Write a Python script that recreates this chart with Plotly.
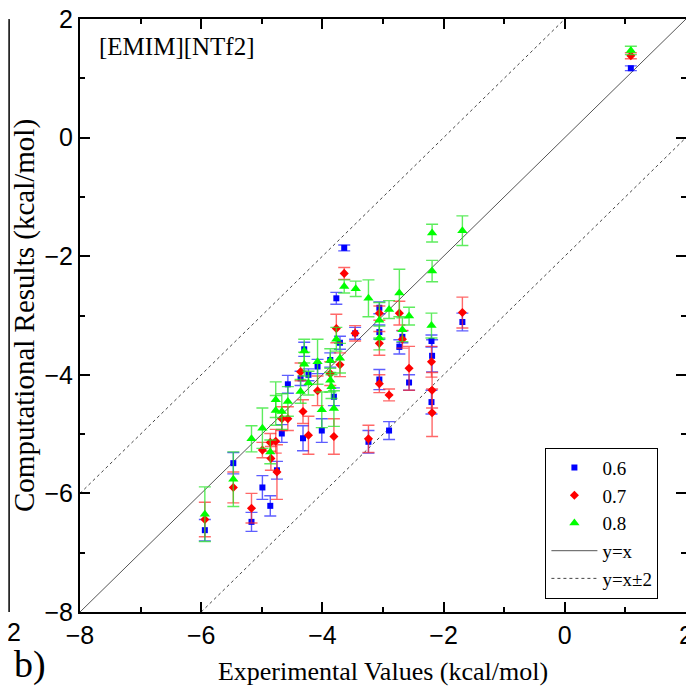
import plotly.graph_objects as go

# experimental (x), computed (y) and error for each charge-scaling factor
x_06 = [1.09, -1.69, -2.20, -2.19, -2.20, -2.57, -2.73, -2.68, -2.90, -3.06, -3.06, -3.06,
        -3.24, -3.46, -3.64, -3.77, -3.71, -3.87, -3.81, -4.08, -4.01, -4.30, -4.36, -4.23,
        -4.32, -4.57, -4.67, -4.75, -4.86, -4.99, -5.17, -5.47, -5.94]
y_06 = [1.17, -3.11, -3.43, -3.68, -4.46, -4.13, -3.53, -3.36, -4.94, -4.08, -2.87, -3.28,
        -5.13, -3.30, -1.86, -2.71, -3.46, -3.75, -4.37, -3.86, -4.94, -3.57, -4.06, -4.00,
        -5.07, -4.16, -4.99, -5.61, -6.21, -5.90, -6.48, -5.49, -6.62]
e_06 = [0.04, 0.15, 0.10, 0.27, 0.20, 0.13, 0.12, 0.10, 0.15, 0.17, 0.10, 0.12,
        0.19, 0.10, 0.05, 0.10, 0.11, 0.12, 0.15, 0.12, 0.20, 0.12, 0.12, 0.10,
        0.21, 0.15, 0.15, 0.15, 0.17, 0.20, 0.16, 0.18, 0.18]

x_07 = [1.09, -1.69, -2.20, -2.19, -2.19, -2.57, -2.73, -2.68, -2.90, -3.06, -3.06, -3.06,
        -3.24, -3.46, -3.64, -3.77, -3.71, -3.87, -3.81, -4.08, -4.36, -4.32, -4.23, -4.57,
        -4.67, -4.77, -4.75, -4.85, -4.86, -4.99, -5.17, -5.47, -5.94]
y_07 = [1.38, -2.95, -3.78, -4.26, -4.64, -3.89, -2.96, -3.40, -4.34, -4.15, -2.96, -3.47,
        -5.08, -3.30, -2.29, -3.22, -3.83, -3.98, -5.04, -4.27, -3.95, -4.62, -5.02, -4.74,
        -4.74, -5.12, -5.64, -5.41, -5.14, -5.27, -6.25, -5.90, -6.44]
e_07 = [0.05, 0.26, 0.26, 0.30, 0.40, 0.37, 0.20, 0.15, 0.10, 0.15, 0.12, 0.20,
        0.23, 0.13, 0.10, 0.24, 0.20, 0.20, 0.30, 0.25, 0.15, 0.20, 0.32, 0.20,
        0.20, 0.20, 0.46, 0.20, 0.15, 0.13, 0.25, 0.26, 0.29]

x_08 = [1.09, -1.69, -2.19, -2.19, -2.20, -2.57, -2.73, -2.68, -2.90, -3.06, -3.06, -3.24,
        -3.45, -3.64, -3.77, -3.71, -3.87, -3.87, -3.85, -3.81, -4.08, -4.01, -4.30, -4.30,
        -4.23, -4.36, -4.57, -4.67, -4.77, -4.77, -4.86, -4.99, -5.17, -5.47, -5.94]
y_08 = [1.47, -1.57, -1.61, -2.25, -3.17, -3.01, -2.62, -3.24, -2.90, -3.08, -3.38, -2.71,
        -2.55, -2.51, -3.40, -3.72, -3.76, -4.09, -4.20, -4.57, -3.78, -4.59, -3.60, -3.82,
        -4.14, -4.28, -4.45, -4.62, -4.42, -4.60, -5.30, -4.90, -5.08, -5.76, -6.35]
e_08 = [0.07, 0.25, 0.15, 0.18, 0.21, 0.15, 0.40, 0.20, 0.15, 0.30, 0.20, 0.31,
        0.13, 0.11, 0.20, 0.25, 0.20, 0.20, 0.20, 0.30, 0.38, 0.30, 0.20, 0.20,
        0.20, 0.20, 0.25, 0.30, 0.30, 0.25, 0.20, 0.34, 0.22, 0.46, 0.46]

series_names = ["0.6", "0.7", "0.8"]
axis_range = [-8, 2]

serif = "Times New Roman, Liberation Serif, serif"
sans = "Liberation Sans Narrow, Arial Narrow, Liberation Sans, Arial, sans-serif"

fig = go.Figure()

# reference lines
fig.add_trace(go.Scatter(x=axis_range, y=axis_range, mode="lines", name="y=x",
                         line=dict(color="#555555", width=1), legendrank=4))
fig.add_trace(go.Scatter(x=[-8, 0, None, -6, 2], y=[-6, 2, None, -8, 0], mode="lines",
                         name="y=x\u00b12", legendrank=5,
                         line=dict(color="#444444", width=1, dash="dot")))

styles = [
    (x_06, y_06, e_06, "#0000FF", "rgba(40,40,255,0.75)", "square", 6),
    (x_07, y_07, e_07, "#FF0000", "rgba(255,40,40,0.7)", "diamond", 7),
    (x_08, y_08, e_08, "#00FF00", "rgba(40,230,40,0.75)", "triangle-up", 9),
]
for rank, (name, (xs, ys, es, col, ecol, sym, size)) in enumerate(zip(series_names, styles)):
    fig.add_trace(go.Scatter(
        x=xs, y=ys, mode="markers", name=name, legendrank=rank + 1,
        marker=dict(color=col, symbol=sym, size=size, line=dict(width=0)),
        error_y=dict(type="data", array=es, color=ecol, thickness=1.4, width=6),
    ))

axis_common = dict(
    range=axis_range, dtick=2, showgrid=False, zeroline=False,
    showline=True, linecolor="black", linewidth=2, mirror="ticks",
    ticks="inside", ticklen=10, tickwidth=1.5, tickcolor="black",
    ticklabeloverflow="allow", automargin=False,
    tickfont=dict(family=sans, size=25, color="black"),
    minor=dict(ticks="inside", dtick=1, ticklen=5, tickwidth=1.5, tickcolor="black"),
)
fig.update_xaxes(**axis_common, title=dict(text="Experimental Values (kcal/mol)",
                                           font=dict(family=serif, size=26, color="black"),
                                           standoff=14))
fig.update_yaxes(**axis_common, title=dict(text="Computational Results (kcal/mol)",
                                           font=dict(family=serif, size=29, color="black"),
                                           standoff=10))

# the page body adds 8px, so the figure is 8px smaller and shifted margins
fig.update_layout(
    width=686, height=683,
    margin=dict(l=72, r=8, t=11, b=79, autoexpand=False),
    plot_bgcolor="white", paper_bgcolor="white",
    font=dict(family=serif, color="black"),
    legend=dict(x=0.768, y=0.277, xanchor="left", yanchor="top",
                bgcolor="white", bordercolor="black", borderwidth=1,
                font=dict(family=serif, size=19, color="black"),
                itemwidth=46, tracegroupgap=0),
    showlegend=True,
)

fig.add_annotation(text="[EMIM][NTf2]", xref="paper", yref="paper", x=0.028, y=0.953,
                   xanchor="left", yanchor="middle", showarrow=False,
                   font=dict(family=serif, size=25, color="black"))
fig.add_annotation(text="b)", xref="paper", yref="paper", x=-0.112, y=-0.089,
                   xanchor="left", yanchor="middle", showarrow=False,
                   font=dict(family=serif, size=38, color="black"))

# edge of the neighbouring panel, cut off at the left
fig.add_shape(type="line", xref="paper", yref="paper", x0=-0.117, x1=-0.117, y0=0, y1=1,
              line=dict(color="black", width=1.5))
fig.add_shape(type="line", xref="paper", yref="paper", x0=-0.13, x1=-0.117, y0=0.975, y1=1,
              line=dict(color="#666666", width=1))
fig.add_annotation(text="2", xref="paper", yref="paper", x=-0.109, y=-0.034,
                   xanchor="center", yanchor="middle", showarrow=False,
                   font=dict(family=sans, size=25, color="black"))

fig.write_html("out.html")
